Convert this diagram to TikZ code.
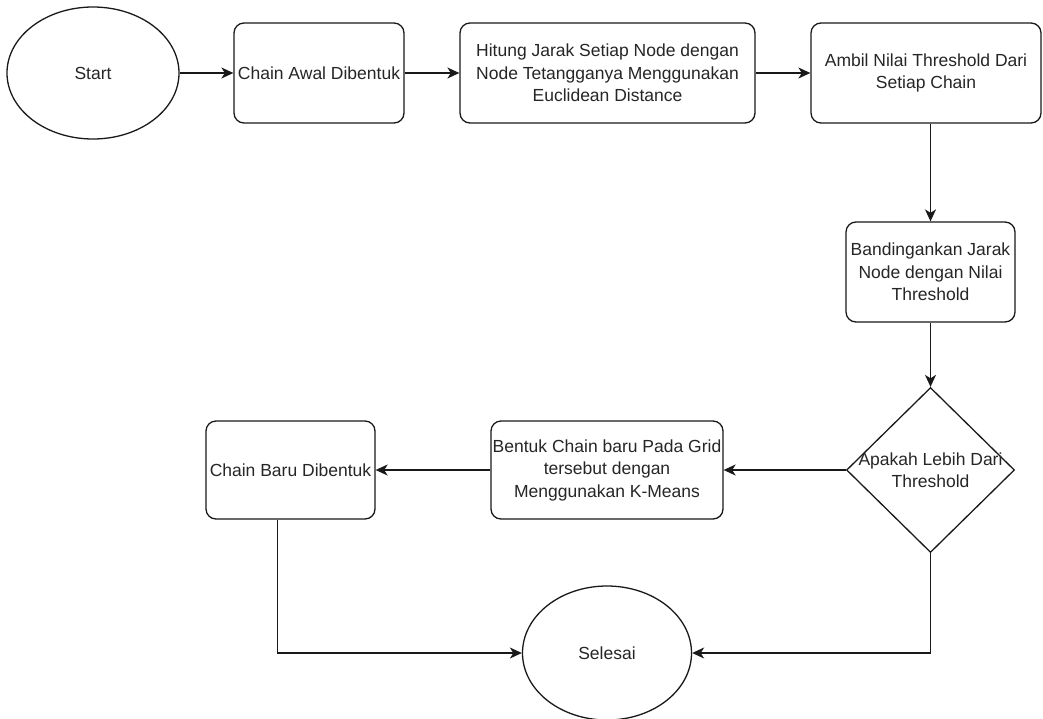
\documentclass[tikz,border=0pt]{standalone}
\usepackage{fontspec}
\setmainfont{Liberation Sans}
\usetikzlibrary{shapes.geometric,arrows.meta}
\begin{document}
\begin{tikzpicture}[x=1pt,y=-1pt,
  every node/.style={font=\fontsize{17.5}{22.5}\selectfont, text=black!85},
  box/.style={draw=black!90, line width=1.3pt, rounded corners=10pt, align=center, inner sep=0pt},
  oval/.style={draw=black!90, ellipse, line width=1.3pt, inner sep=0pt},
  decision/.style={draw=black!90, diamond, line width=1.3pt, inner sep=0pt},
  arr/.style={-{Stealth[length=12pt,width=11pt,inset=3.5pt]}, line width=1.3pt, draw=black!90}]
\fill[white] (0,0) rectangle (1043,718);
\useasboundingbox (0,0) rectangle (1043,718);
\node[oval, minimum width=172pt, minimum height=132pt] (start) at (93,73) {Start};
\node[box, minimum width=170pt, minimum height=100pt] (awal) at (319,73) {Chain Awal Dibentuk};
\node[box, minimum width=295pt, minimum height=100pt] (hitung) at (607.5,73) {Hitung Jarak Setiap Node dengan\\Node Tetangganya Menggunakan\\Euclidean Distance};
\node[box, minimum width=230pt, minimum height=100pt] (ambil) at (926,73) {Ambil Nilai Threshold Dari\\Setiap Chain};
\node[box, minimum width=169pt, minimum height=100pt] (band) at (930.5,272) {Bandingankan Jarak\\Node dengan Nilai\\Threshold};
\node[decision, minimum width=168pt, minimum height=165pt,
  label={[align=center]center:{Apakah Lebih Dari\\Threshold}}] (dia) at (930.5,470) {};
\node[box, minimum width=232pt, minimum height=98pt] (bentuk) at (607,470) {Bentuk Chain baru Pada Grid\\tersebut dengan\\Menggunakan K-Means};
\node[box, minimum width=169pt, minimum height=98pt] (baru) at (290.5,470) {Chain Baru Dibentuk};
\node[oval, minimum width=169pt, minimum height=134pt] (selesai) at (607,653) {Selesai};

\draw[arr] (start.east) -- (awal.west);
\draw[arr] (awal.east) -- (hitung.west);
\draw[arr] (hitung.east) -- (ambil.west);
\draw[arr] (ambil.south -| band.north) -- (band.north);
\draw[arr] (band.south) -- (dia.north);
\draw[arr] (dia.west) -- (bentuk.east);
\draw[arr] (bentuk.west) -- (baru.east);
\draw[arr] ([xshift=-13pt]baru.south) |- (selesai.west);
\draw[arr] (dia.south) |- (selesai.east);
\end{tikzpicture}
\end{document}
